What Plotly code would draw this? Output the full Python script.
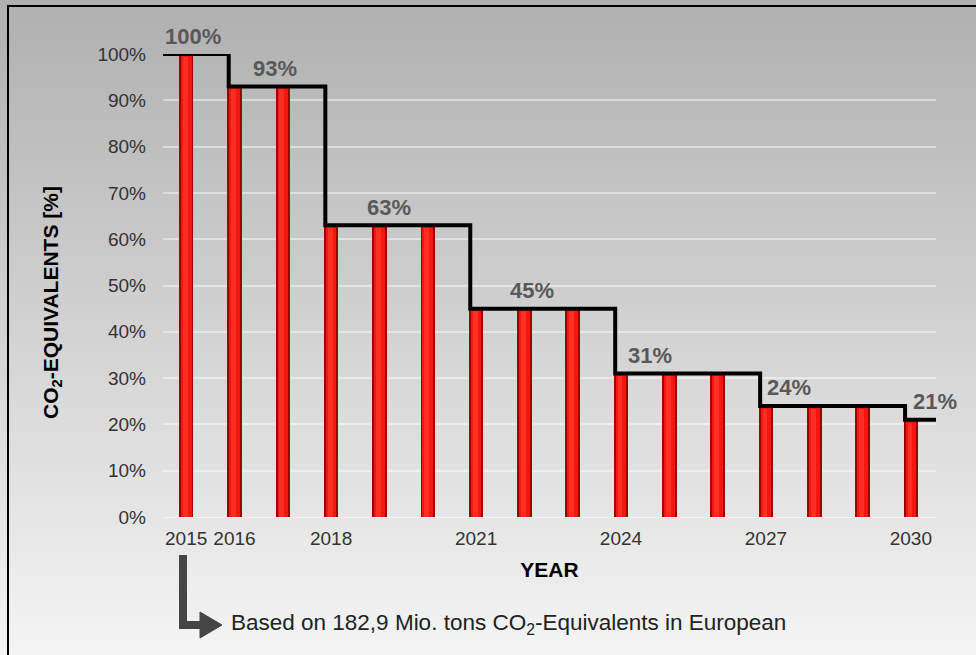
import plotly.graph_objects as go

# ---- data ----
years = list(range(2015, 2031))
values = [100, 93, 93, 63, 63, 63, 45, 45, 45, 31, 31, 31, 24, 24, 24, 21]
step_years = [2015, 2016, 2018, 2021, 2024, 2027, 2030]
step_values = [100, 93, 63, 45, 31, 24, 21]
label_texts = ["100%", "93%", "63%", "45%", "31%", "24%", "21%"]
label_years = [2015.14, 2016.84, 2019.2, 2022.16, 2024.6, 2027.48, 2030.5]
tick_years = [2015, 2016, 2018, 2021, 2024, 2027, 2030]
y_ticks = list(range(0, 101, 10))

W, H = 976, 655
L, R, T, B = 163, 936, 54, 517
FONT = "Arial, Liberation Sans, sans-serif"

def pxx(p):
    return (p - L) / (R - L)

def pxy(p):
    return (B - p) / (B - T)

fig = go.Figure()

# bars: dark base + brighter core for a cylinder look
fig.add_trace(go.Bar(x=years, y=values, width=0.30, marker=dict(color="#9e0000", line=dict(width=0)),
                     showlegend=False, hoverinfo="skip"))
fig.add_trace(go.Bar(x=years, y=values, width=0.22, marker=dict(color="#f01810", line=dict(width=0)),
                     showlegend=False))
fig.add_trace(go.Bar(x=[y - 0.02 for y in years], y=[v - 0.6 for v in values], width=0.10,
                     marker=dict(color="#ff2e22", line=dict(width=0)), showlegend=False, hoverinfo="skip"))

# step line
xs = [step_years[0] - 0.48] + [y - 0.12 for y in step_years[1:]] + [step_years[-1] + 0.54]
ys = step_values + [step_values[-1]]
fig.add_trace(go.Scatter(x=xs, y=ys, mode="lines", line=dict(color="black", width=4, shape="hv"),
                         showlegend=False, cliponaxis=False))

shapes = []
# gradient background
n = 90
for i in range(n):
    p0 = H * i / n
    p1 = H * (i + 1) / n + 1
    t = (i + 0.5) / n
    c = int(176 + (245 - 176) * t)
    shapes.append(dict(type="rect", xref="paper", yref="paper", x0=pxx(-5), x1=pxx(W + 5),
                       y0=pxy(p1), y1=pxy(p0), fillcolor=f"rgb({c},{c},{c})",
                       line=dict(width=0), layer="below"))
# frame (top/left)
shapes.append(dict(type="rect", xref="paper", yref="paper", x0=pxx(8), x1=pxx(W + 20),
                   y0=pxy(H + 20), y1=pxy(6), line=dict(color="black", width=2), layer="above"))
# bent arrow
shapes.append(dict(type="path", xref="paper", yref="paper",
                   path=f"M {pxx(183)},{pxy(555)} L {pxx(183)},{pxy(625)} L {pxx(203)},{pxy(625)}",
                   line=dict(color="#454545", width=8), layer="above"))
shapes.append(dict(type="path", xref="paper", yref="paper",
                   path=f"M {pxx(200)},{pxy(612)} L {pxx(222)},{pxy(625)} L {pxx(200)},{pxy(638)} Z",
                   fillcolor="#454545", line=dict(color="#454545", width=1), layer="above"))

annotations = []
for t, xv, v in zip(label_texts, label_years, step_values):
    annotations.append(dict(x=xv, y=v, yshift=18, text=f"<b>{t}</b>", showarrow=False,
                            font=dict(family=FONT, size=22, color="#595959")))
annotations.append(dict(xref="paper", yref="paper", x=pxx(229), y=pxy(624), xanchor="left",
                        yanchor="middle",
                        text="Based on 182,9 Mio. tons CO<sub>2</sub>-Equivalents in European",
                        showarrow=False, font=dict(family=FONT, size=22.5, color="#222222")))
annotations.append(dict(xref="paper", yref="paper", x=pxx(52), y=pxy(303), xanchor="center",
                        yanchor="middle", textangle=-90,
                        text="<b>CO<sub>2</sub>-EQUIVALENTS [%]</b>",
                        showarrow=False, font=dict(family=FONT, size=21, color="black")))

fig.update_layout(
    width=W, height=H,
    margin=dict(l=L, r=W - R, t=T, b=H - B),
    paper_bgcolor="#d0d0d0", plot_bgcolor="rgba(0,0,0,0)",
    barmode="overlay", bargap=0,
    shapes=shapes, annotations=annotations,
    font=dict(family=FONT, color="#333333"),
    xaxis=dict(range=[2014.52, 2030.52], tickmode="array", tickvals=tick_years,
               ticktext=[str(y) for y in tick_years], showgrid=False, zeroline=False,
               tickfont=dict(size=19, color="#333333"), ticks="", showline=False,
               ticklabelstandoff=8,
               title=dict(text="<b>YEAR</b>", font=dict(size=21, color="black"), standoff=14)),
    yaxis=dict(range=[0, 100], tickmode="array", tickvals=y_ticks,
               ticktext=[f"{v}%" for v in y_ticks], gridcolor="rgba(255,255,255,0.45)", gridwidth=2,
               zeroline=True, zerolinecolor="rgba(255,255,255,0.5)", zerolinewidth=1,
               tickfont=dict(size=19, color="#333333"), ticks="", ticklabelstandoff=16),
)

fig.write_html("out.html")
